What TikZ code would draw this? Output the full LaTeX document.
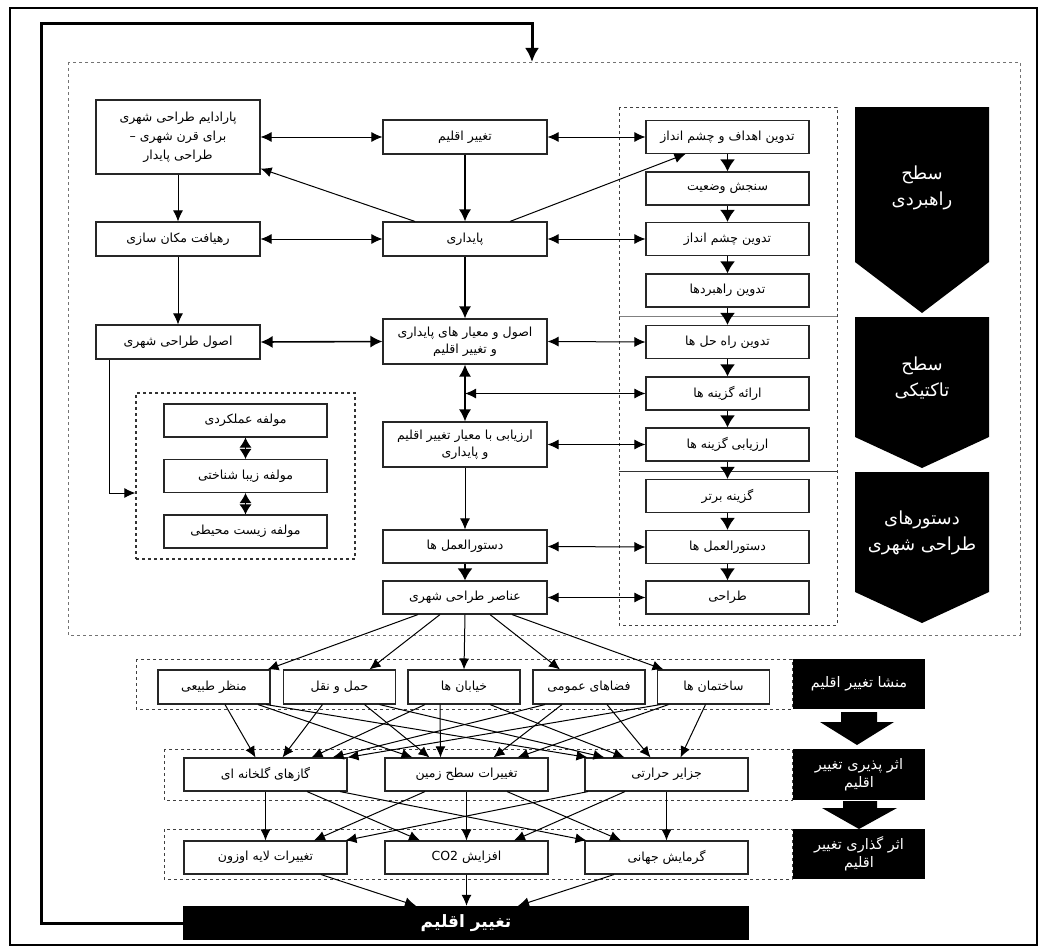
\documentclass[tikz,border=0pt]{standalone}
\usepackage{fontspec}
\newfontfamily\fa[Script=Arabic]{DejaVu Sans}
\TeXXeTstate=1
\usetikzlibrary{arrows.meta,calc}
\newcommand\fat[1]{\beginR #1\endR}
\begin{document}
\begin{tikzpicture}[x=1pt,y=-1pt,
  box/.style={draw=black!85, line width=1.1pt, fill=white, inner sep=1pt, align=center,
    font=\fa\fontsize{12.5}{17}\selectfont, minimum height=34pt},
  wa/.style={minimum width=164pt},
  wb/.style={minimum width=112pt},
  ar/.style={-{Latex[length=11pt,width=10pt]}, line width=1pt},
  dar/.style={{Latex[length=11pt,width=10pt]}-{Latex[length=11pt,width=10pt]}, line width=1pt},
  thk/.style={-{Latex[length=12pt,width=12pt]}, line width=1.6pt},
  dthk/.style={{Latex[length=12pt,width=12pt]}-{Latex[length=12pt,width=12pt]}, line width=1.6pt},
  stub/.style={-{Latex[length=12pt,width=15pt]}, line width=1.8pt},
  dia/.style={{Latex[length=10pt,width=12pt]}-{Latex[length=10pt,width=12pt]}, line width=1pt},
  frame/.style={draw=black!70, dashed, line width=0.9pt},
  wtxt/.style={text=white, align=center, font=\fa\fontsize{18}{26}\selectfont},
  ltxt/.style={fill=black, text=white, align=center, font=\fa\fontsize{14.5}{18}\selectfont, inner sep=0pt},
]
\useasboundingbox (0,0) rectangle (1044,950);
\fill[white] (0,0) rectangle (1044,950);
% outer frame
\draw[line width=1.2pt] (10,8) rectangle (1037,945);
% big dashed area
\draw[frame, draw=black!55] (68,62) rectangle (1020,635);
% right dashed column
\draw[frame, draw=black!75] (619,107) rectangle (837,625);
\draw[black!50, line width=0.9pt] (619,316) -- (837,316);
\draw[black!80, line width=0.9pt] (619,471) -- (837,471);

% chevrons
\fill (855,107) -- (989,107) -- (989,262) -- (922,313) -- (855,262) -- cycle;
\fill (855,317) -- (989,317) -- (989,437) -- (922,468) -- (855,437) -- cycle;
\fill (855,472) -- (989,472) -- (989,592) -- (922,623) -- (855,592) -- cycle;
\node[wtxt] (ch1) at (922,188) {\fat{سطح}\\\fat{راهبردی}};
\node[wtxt] (ch2) at (922,378) {\fat{سطح}\\\fat{تاکتیکی}};
\node[wtxt] (ch3) at (922,533) {\fat{دستورهای}\\\fat{طراحی شهری}};

% left column
\node[box, wa, minimum height=74pt, font=\fa\fontsize{12.5}{19}\selectfont] (par) at (178,137) {\fat{پارادایم طراحی شهری}\\\fat{برای قرن شهری –}\\\fat{طراحی پایدار}};
\node[box, wa] (rah) at (178,239) {\fat{رهیافت مکان سازی}};
\node[box, wa] (osul) at (178,342) {\fat{اصول طراحی شهری}};

% components
\node[frame, draw=black!80, line width=1.3pt, minimum width=219pt, minimum height=166pt] (comp) at (245.5,476) {};
\node[box, minimum width=163pt, minimum height=33pt] (c1) at (245.5,420.5) {\fat{مولفه عملکردی}};
\node[box, minimum width=163pt, minimum height=33pt] (c2) at (245.5,476) {\fat{مولفه زیبا شناختی}};
\node[box, minimum width=163pt, minimum height=33pt] (c3) at (245.5,531.5) {\fat{مولفه زیست محیطی}};

% middle column
\node[box, wa] (tag) at (465,137) {\fat{تغییر اقلیم}};
\node[box, wa] (pay) at (465,239) {\fat{پایداری}};
\node[box, wa, minimum height=45pt] (mey) at (465,341.5) {\fat{اصول و معیار های پایداری}\\\fat{و تغییر اقلیم}};
\node[box, wa, minimum height=45pt] (arz) at (465,444.5) {\fat{ارزیابی با معیار تغییر اقلیم}\\\fat{و پایداری}};
\node[box, wa, minimum height=33pt] (dast) at (465,546.5) {\fat{دستورالعمل ها}};
\node[box, wa, minimum height=33pt] (anas) at (465,597.5) {\fat{عناصر طراحی شهری}};

% right column
\begin{scope}[every node/.style={box, minimum width=163pt, minimum height=33pt}]
\node (r1) at (727.5,137) {\fat{تدوین اهداف و چشم انداز}};
\node (r2) at (727.5,188.5) {\fat{سنجش وضعیت}};
\node (r3) at (727.5,239) {\fat{تدوین چشم انداز}};
\node (r4) at (727.5,290.5) {\fat{تدوین راهبردها}};
\node (r5) at (727.5,342) {\fat{تدوین راه حل ها}};
\node (r6) at (727.5,393.5) {\fat{ارائه گزینه ها}};
\node (r7) at (727.5,444.5) {\fat{ارزیابی گزینه ها}};
\node (r8) at (727.5,496) {\fat{گزینه برتر}};
\node (r9) at (727.5,547) {\fat{دستورالعمل ها}};
\node (r10) at (727.5,597.5) {\fat{طراحی}};
\end{scope}

% upper connectors
\draw[dar] (par.east) -- (tag.west);
\draw[dar] (tag.east) -- (r1.west);
\draw[ar] (par.south) -- (rah.north);
\draw[dar] (rah.east) -- (pay.west);
\draw[dar] (pay.east) -- (r3.west);
\draw[ar] (rah.south) -- (osul.north);
\draw[thk] (tag.south) -- (pay.north);
\draw[ar] ($(pay.north)+(-50,0)$) -- ($(par.south east)+(0,-6)$);
\draw[ar] ($(pay.north)+(45,0)$) -- ($(r1.south west)+(40,0)$);
\draw[thk] (pay.south) -- (mey.north);
\draw[dthk] (osul.east) -- (mey.west);
\draw[dar] (mey.east) -- (r5.west);
\draw[dthk] (mey.south) -- (arz.north);
\coordinate (jn) at (mey.south |- r6.west);
\draw[dar] (jn) -- (r6.west);
\draw[dar] (arz.east) -- (r7.west);
\draw[ar] (arz.south) -- (dast.north);
\draw[stub] (dast.south) -- (anas.north);
\draw[dar] (dast.east) -- (r9.west);
\draw[dar] (anas.east) -- (r10.west);
\foreach \a/\b in {r1/r2,r2/r3,r3/r4,r4/r5,r5/r6,r6/r7,r7/r8,r8/r9,r9/r10}
  \draw[stub] (\a.south) -- (\b.north);
\draw[ar] ($(osul.south west)+(14,0)$) |- ($(comp.west)+(0,17)$);
\draw[dia] (c1.south) -- (c2.north);
\draw[dia] (c2.south) -- (c3.north);

% lower frames
\draw[frame, draw=black!75] (136,659) rectangle (792,709);
\draw[frame, draw=black!75] (164,749) rectangle (792,800);
\draw[frame, draw=black!75] (164,829) rectangle (792,879);
\node[ltxt, minimum width=132pt, minimum height=50pt] (L1) at (859,684) {\fat{منشا تغییر اقلیم}};
\node[ltxt, minimum width=132pt, minimum height=51pt] (L2) at (859,774.5) {\fat{اثر پذیری تغییر}\\\fat{اقلیم}};
\node[ltxt, minimum width=132pt, minimum height=50pt] (L3) at (859,854) {\fat{اثر گذاری تغییر}\\\fat{اقلیم}};
\fill (841,712) -- (877,712) -- (877,722) -- (894,722) -- (857,745) -- (820,722) -- (841,722) -- cycle;
\fill (843,801) -- (877,801) -- (877,808) -- (897,808) -- (859,829) -- (822,808) -- (843,808) -- cycle;

% source row
\node[box, wb] (s1) at (214,687) {\fat{منظر طبیعی}};
\node[box, wb] (s2) at (339.5,687) {\fat{حمل و نقل}};
\node[box, wb] (s3) at (464,687) {\fat{خیابان ها}};
\node[box, wb] (s4) at (589,687) {\fat{فضاهای عمومی}};
\node[box, wb] (s5) at (713.5,687) {\fat{ساختمان ها}};

% middle row
\node[box, minimum width=163pt, minimum height=33pt] (m1) at (265.5,774.5) {\fat{گازهای گلخانه ای}};
\node[box, minimum width=163pt, minimum height=33pt] (m2) at (466.5,774.5) {\fat{تغییرات سطح زمین}};
\node[box, minimum width=163pt, minimum height=33pt] (m3) at (666.5,774.5) {\fat{جزایر حرارتی}};

% bottom row
\node[box, minimum width=163pt, minimum height=33pt] (b1) at (265.5,857.5) {\fat{تغییرات لایه اوزون}};
\node[box, minimum width=163pt, minimum height=33pt] (b2) at (466.5,857.5) {\fat{افزایش \beginL CO2\endL}};
\node[box, minimum width=163pt, minimum height=33pt] (b3) at (666.5,857.5) {\fat{گرمایش جهانی}};

% final
\node[fill=black, minimum width=566pt, minimum height=34pt, inner sep=0pt, text=white, font=\fa\bfseries\fontsize{17}{20}\selectfont] (fin) at (466,923) {\fat{تغییر اقلیم}};

% anas -> sources
\draw[ar] ($(anas.south)+(-47,0)$) -- ($(s1.north east)+(-3,0)$);
\draw[ar] ($(anas.south)+(-25,0)$) -- ($(s2.north)+(30,0)$);
\draw[ar] (anas.south) -- (s3.north);
\draw[ar] ($(anas.south)+(25,0)$) -- ($(s4.north)+(-29,0)$);
\draw[ar] ($(anas.south)+(47,0)$) -- ($(s5.north)+(-50,0)$);

% sources -> middle
\foreach \s/\m/\sx/\mx in {
  s1/m1/11/-10, s1/m2/44/-54, s1/m3/52/-79,
  s2/m1/-17/17, s2/m2/25/-37, s2/m3/40/-62,
  s3/m1/-39/46, s3/m2/-24/-26, s3/m3/26/-42,
  s4/m1/-44/67, s4/m2/-27/27, s4/m3/18/-16,
  s5/m1/-53/82, s5/m2/-45/51, s5/m3/-8/14}
  \draw[ar] ($(\s.south)+(\sx,0)$) -- ($(\m.north)+(\mx,0)$);

% middle -> bottom
\foreach \m/\b/\sx/\bx in {
  m1/b1/0/0, m1/b2/41.5/-46.5, m1/b3/74.5/-80,
  m2/b1/-41.5/48.5, m2/b2/0/0, m2/b3/40.5/-45.5,
  m3/b1/-78.5/80, m3/b2/-41.5/47.5, m3/b3/0/0}
  \draw[ar] ($(\m.south)+(\sx,0)$) -- ($(\b.north)+(\bx,0)$);

% bottom -> final
\draw[ar] ($(b1.south)+(55.5,0)$) -- ($(fin.north)+(-50,0)$);
\draw[ar] (b2.south) -- ($(fin.north)+(0.5,0)$);
\draw[ar] ($(b3.south)+(-52.5,0)$) -- ($(fin.north)+(52,0)$);

% feedback loop
\coordinate (top) at (532,62);
\draw[line width=3pt, -{Latex[length=14pt,width=14pt]}] (fin.west) -| (41,24) -| (top);
\end{tikzpicture}
\end{document}
